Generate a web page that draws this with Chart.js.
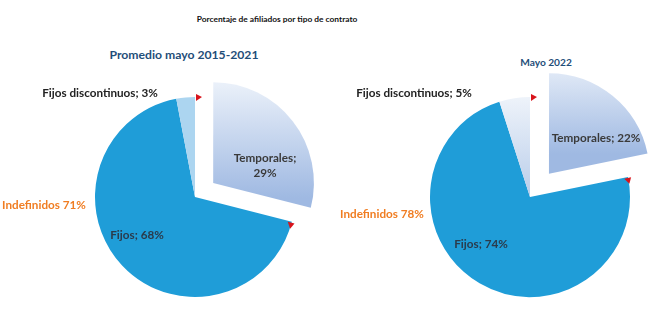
<!DOCTYPE html>
<html>
<head>
<meta charset="utf-8">
<script src="https://cdn.jsdelivr.net/npm/chart.js@4/dist/chart.umd.min.js"></script>
<style>
  body { margin: 0; width: 650px; height: 325px; overflow: hidden; background: #fff; position: relative;
         font-family: Lato, "Open Sans", sans-serif; }
  .t { position: absolute; white-space: nowrap; font-weight: bold; font-size: 11.7px; line-height: 1.25;
       transform: translate(-50%, -50%); text-align: center; }
  canvas { position: absolute; }
</style>
</head>
<body>
<div class="t" style="left:277px;top:19px;color:#111;font-size:8.4px">Porcentaje de afiliados por tipo de contrato</div>
<div class="t" id="sub0" style="left:184px;top:55px;color:#1f4e79;font-size:12.2px"></div>
<div class="t" id="sub1" style="left:546px;top:62px;color:#1f4e79;font-size:10.2px"></div>

<canvas id="pie0" width="280" height="280" style="left:55px;top:57px"></canvas>
<canvas id="pie1" width="240" height="260" style="left:410px;top:67px"></canvas>

<div class="t" id="disc0" style="left:100px;top:92px;color:#222"></div>
<div class="t" id="temp0" style="left:265px;top:165px;color:#3a3a3a"></div>
<div class="t" id="indef0" style="left:44px;top:204px;color:#f07d22"></div>
<div class="t" id="fijos0" style="left:137px;top:234px;color:#2b3a4a"></div>

<div class="t" id="disc1" style="left:414px;top:92px;color:#222"></div>
<div class="t" id="temp1" style="left:596px;top:137px;color:#3a3a3a"></div>
<div class="t" id="indef1" style="left:382px;top:213px;color:#f07d22"></div>
<div class="t" id="fijos1" style="left:481px;top:243px;color:#2b3a4a"></div>

<script>
const periods = ["Promedio mayo 2015-2021", "Mayo 2022"];
const categories = ["Temporales", "Fijos", "Fijos discontinuos"];
const promedio = [29, 68, 3];
const mayo2022 = [22, 74, 5];
const indefinidos = [71, 78];

// red marks where the pulled-out slice used to sit
const markPlugin = {
  id: "marks",
  afterDatasetsDraw(chart) {
    const arc = chart.getDatasetMeta(0).data[0];
    const ctx = chart.ctx;
    ctx.save();
    ctx.fillStyle = "#d8141c";
    [arc.startAngle, arc.endAngle].forEach((a) => {
      const px = arc.x + arc.outerRadius * Math.cos(a);
      const py = arc.y + arc.outerRadius * Math.sin(a);
      const tx = -Math.sin(a), ty = Math.cos(a);   // clockwise tangent
      const nx = Math.cos(a), ny = Math.sin(a);
      ctx.beginPath();
      ctx.moveTo(px + tx * 1 - nx * 4, py + ty * 1 - ny * 4);
      ctx.lineTo(px + tx * 1 + nx * 3, py + ty * 1 + ny * 3);
      ctx.lineTo(px + tx * 7, py + ty * 7);
      ctx.closePath();
      ctx.fill();
    });
    ctx.restore();
  }
};

// chart.js draws arcs shifted by offset / 4
function makePie(id, values, shift, tempFrom, tempTo, discColor) {
  const canvas = document.getElementById(id);
  return new Chart(canvas.getContext("2d"), {
    type: "pie",
    data: {
      labels: categories,
      datasets: [{
        data: values,
        offset: [shift * 4, 0, 0],
        borderWidth: 0,
        backgroundColor: (c) => {
          const area = c.chart.chartArea;
          if (!area) return "#ccc";
          const cy = (area.top + area.bottom) / 2;
          const g = c.chart.ctx;
          if (c.dataIndex === 0) {
            const grad = g.createLinearGradient(0, cy + tempFrom, 0, cy + tempTo);
            grad.addColorStop(0, "#f6f9fd");
            grad.addColorStop(1, "#9fb9e2");
            return grad;
          }
          if (c.dataIndex === 1) return "#1f9dd8";
          if (Array.isArray(discColor)) {
            const grad = g.createLinearGradient(0, cy - 100, 0, cy);
            grad.addColorStop(0, discColor[0]);
            grad.addColorStop(1, discColor[1]);
            return grad;
          }
          return discColor;
        }
      }]
    },
    options: {
      responsive: false,
      animation: false,
      radius: 100,
      layout: { padding: 0 },
      plugins: { legend: { display: false }, tooltip: { enabled: false } }
    },
    plugins: [markPlugin]
  });
}

makePie("pie0", promedio, 23, -118, 15, "#acd5f0");
makePie("pie1", mayo2022, 30, -130, -20, ["#eef3fa", "#b9cdea"]);

const sets = [promedio, mayo2022];
sets.forEach((vals, i) => {
  document.getElementById("sub" + i).textContent = periods[i];
  document.getElementById("disc" + i).textContent = categories[2] + "; " + vals[2] + "%";
  document.getElementById("fijos" + i).textContent = categories[1] + "; " + vals[1] + "%";
  document.getElementById("indef" + i).textContent = "Indefinidos " + indefinidos[i] + "%";
});
document.getElementById("temp0").innerHTML = categories[0] + ";<br>" + promedio[0] + "%";
document.getElementById("temp1").textContent = categories[0] + "; " + mayo2022[0] + "%";
</script>
</body>
</html>
